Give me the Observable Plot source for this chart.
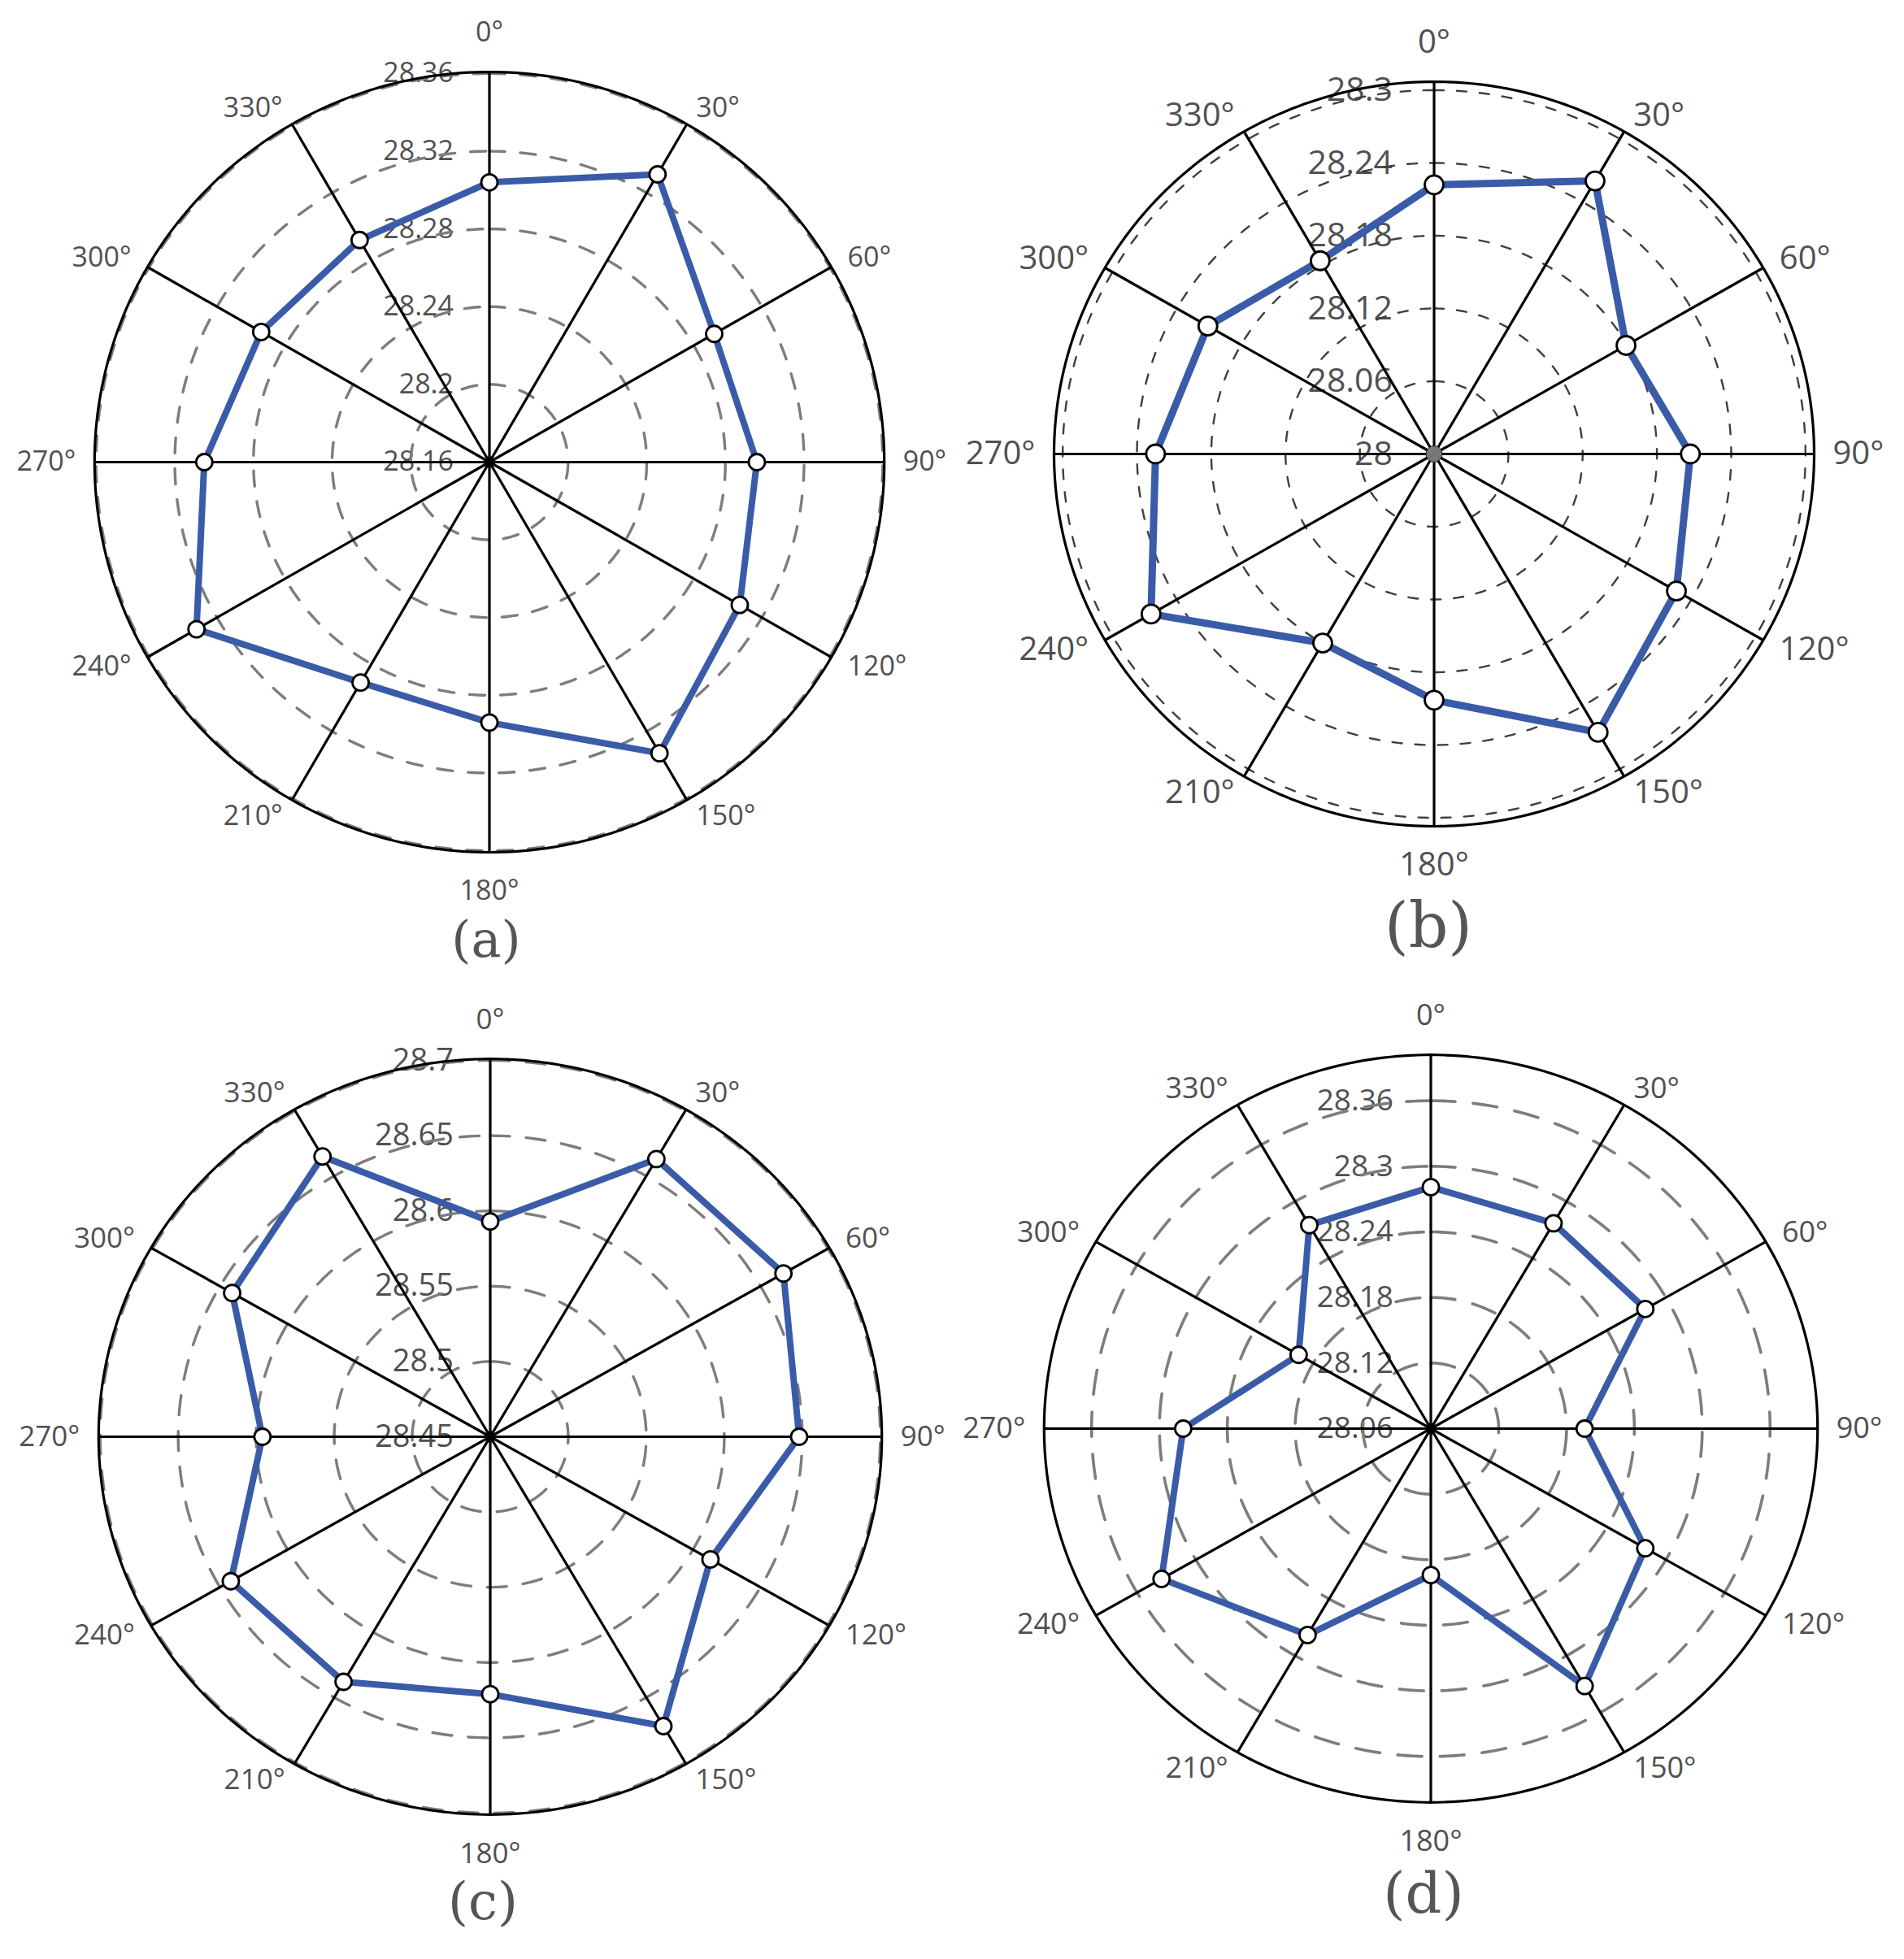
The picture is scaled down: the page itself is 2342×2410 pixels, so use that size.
<!DOCTYPE html>
<html><head><meta charset="utf-8">
<script src="https://cdn.jsdelivr.net/npm/d3@7"></script>
<script src="https://cdn.jsdelivr.net/npm/@observablehq/plot@0.6"></script>
<style>
html,body{margin:0;padding:0;background:#fff;}
#page{position:relative;width:2342px;height:2410px;overflow:hidden;background:#fff;}
.panel{position:absolute;}
.panel svg{max-width:none !important;}
.cap{position:absolute;transform:translate(-50%,-50%);font-family:"DejaVu Serif","Liberation Serif",serif;color:#555;line-height:0.7;white-space:nowrap;}
</style></head><body><div id="page"></div>
<script>
// ---- data ----
const angles = [0, 30, 60, 90, 120, 150, 180, 210, 240, 270, 300, 330];
const angleLabels = ["0°", "30°", "60°", "90°", "120°", "150°", "180°", "210°", "240°", "270°", "300°", "330°"];

const valuesA = [28.304, 28.331, 28.292, 28.296, 28.307, 28.333, 28.294, 28.291, 28.332, 28.305, 28.294, 28.292];
const ticksA = [28.16, 28.2, 28.24, 28.28, 28.32, 28.36];
const tickLabelsA = ["28.16", "28.2", "28.24", "28.28", "28.32", "28.36"];

const valuesB = [28.222, 28.260, 28.179, 28.207, 28.226, 28.265, 28.203, 28.180, 28.264, 28.225, 28.211, 28.184];
const ticksB = [28.0, 28.06, 28.12, 28.18, 28.24, 28.3];
const tickLabelsB = ["28", "28.06", "28.12", "28.18", "28.24", "28.3"];

const valuesC = [28.593, 28.663, 28.667, 28.648, 28.613, 28.672, 28.621, 28.638, 28.642, 28.596, 28.641, 28.665];
const ticksC = [28.45, 28.5, 28.55, 28.6, 28.65, 28.7];
const tickLabelsC = ["28.45", "28.5", "28.55", "28.6", "28.65", "28.7"];

const valuesD = [28.281, 28.277, 28.279, 28.196, 28.279, 28.332, 28.194, 28.278, 28.335, 28.279, 28.195, 28.275];
const ticksD = [28.06, 28.12, 28.18, 28.24, 28.3, 28.36];
const tickLabelsD = ["28.06", "28.12", "28.18", "28.24", "28.3", "28.36"];

const captions = ["(a)", "(b)", "(c)", "(d)"];

// ---- layout / style ----
const panels = [
  {values: valuesA, ticks: ticksA, tickLabels: tickLabelsA, rMax: 28.3608, cx: 601.7, cy: 568.3, rx: 485.7, ry: 480,
   angleFont: 34, tickFont: 34, tickDx: 44, dash: "19,19", dashColor: "#7d7d7d", dashWidth: 3.4, lineWidth: 8, dotR: 10,
   center: {fill: "#000", r: 7}, cap: {x: 598, y: 1156, size: 62}},
  {values: valuesB, ticks: ticksB, tickLabels: tickLabelsB, rMax: 28.307, cx: 1763, cy: 558.3, rx: 467.5, ry: 458,
   angleFont: 40, tickFont: 41, tickDx: 51, dash: "12,16", dashColor: "#3f3f3f", dashWidth: 2.4, lineWidth: 9, dotR: 11.5,
   center: {fill: "#777", r: 10}, cap: {x: 1757, y: 1139, size: 76}},
  {values: valuesC, ticks: ticksC, tickLabels: tickLabelsC, rMax: 28.701, cx: 602, cy: 1766.7, rx: 481.7, ry: 464.8,
   angleFont: 35, tickFont: 38, tickDx: 45, dash: "24,20", dashColor: "#7d7d7d", dashWidth: 3.4, lineWidth: 8, dotR: 10,
   center: {fill: "#000", r: 7}, cap: {x: 594, y: 2339, size: 64}},
  {values: valuesD, ticks: ticksD, tickLabels: tickLabelsD, rMax: 28.402, cx: 1759.6, cy: 1756.7, rx: 475.7, ry: 459.8,
   angleFont: 36, tickFont: 37, tickDx: 46, dash: "30,22", dashColor: "#7d7d7d", dashWidth: 3.6, lineWidth: 8, dotR: 10,
   center: {fill: "#000", r: 7}, cap: {x: 1751, y: 2329, size: 70}}
];

const page = document.getElementById("page");
const rad = a => a * Math.PI / 180;
const circleAngles = d3.range(0, 361, 1);
const FONT = "'Open Sans', 'Noto Sans', sans-serif";
const textColor = "#505050";

function makePanel(p, k) {
  const pad = 150;
  const W = Math.round(2 * p.rx + 2 * pad), H = Math.round(2 * p.ry + 2 * pad);
  const xe = W / 2 / p.rx, ye = H / 2 / p.ry;
  const rMin = p.ticks[0];
  const norm = v => (v - rMin) / (p.rMax - rMin);

  const ringData = p.ticks.slice(1).flatMap(t => circleAngles.map(a => ({t, a})));
  const outer = circleAngles.map(a => ({a}));
  const pts = angles.map((a, i) => ({a, v: p.values[i]}));
  const lbl = angles.map((a, i) => ({a, s: angleLabels[i]}));
  const tl = p.ticks.map((t, i) => ({t, s: p.tickLabels[i]}));
  const offSide = 23, offTop = 48;

  const px = d => norm(d.v) * Math.sin(rad(d.a));
  const py = d => norm(d.v) * Math.cos(rad(d.a));

  const sideText = (filter, anchor) => Plot.text(lbl, {
    filter, x: d => Math.sin(rad(d.a)) * (1 + offSide / p.rx), y: d => Math.cos(rad(d.a)) * (1 + offSide / p.ry),
    text: "s", textAnchor: anchor, fontSize: p.angleFont, fontFamily: FONT, fill: textColor
  });

  const chart = Plot.plot({
    width: W, height: H, margin: 0,
    x: {domain: [-xe, xe], axis: null},
    y: {domain: [-ye, ye], axis: null},
    style: {background: "transparent", overflow: "visible", fontFamily: FONT, maxWidth: "none"},
    marks: [
      Plot.text(tl, {x: () => 0, y: d => norm(d.t), text: "s", textAnchor: "end", dx: -p.tickDx,
        fontSize: p.tickFont, fontFamily: FONT, fill: textColor}),
      Plot.line(ringData, {x: d => norm(d.t) * Math.sin(rad(d.a)), y: d => norm(d.t) * Math.cos(rad(d.a)), z: "t",
        stroke: p.dashColor, strokeWidth: p.dashWidth, strokeDasharray: p.dash}),
      Plot.link(angles, {x1: () => 0, y1: () => 0, x2: a => Math.sin(rad(a)), y2: a => Math.cos(rad(a)),
        stroke: "#000", strokeWidth: 3.2}),
      Plot.line(outer, {x: d => Math.sin(rad(d.a)), y: d => Math.cos(rad(d.a)), stroke: "#000", strokeWidth: 3.2}),
      Plot.dot([0], {x: () => 0, y: () => 0, r: p.center.r, fill: p.center.fill, stroke: "#222", strokeWidth: 1}),
      Plot.line(pts, {x: px, y: py, curve: "linear-closed", stroke: "#3a5ba8", strokeWidth: p.lineWidth, strokeLinejoin: "round"}),
      Plot.dot(pts, {x: px, y: py, r: p.dotR, fill: "#fff", stroke: "#000", strokeWidth: 2.8}),
      sideText(d => d.a > 0 && d.a < 180, "start"),
      sideText(d => d.a > 180, "end"),
      Plot.text(lbl, {filter: d => d.a === 0 || d.a === 180,
        x: d => 0, y: d => Math.cos(rad(d.a)) * (1 + offTop / p.ry),
        text: "s", textAnchor: "middle", fontSize: p.angleFont, fontFamily: FONT, fill: textColor})
    ]
  });
  const wrap = document.createElement("div");
  wrap.className = "panel";
  wrap.style.left = (p.cx - W / 2) + "px";
  wrap.style.top = (p.cy - H / 2) + "px";
  wrap.style.width = W + "px";
  wrap.style.height = H + "px";
  chart.style.width = W + "px";
  chart.style.height = H + "px";
  chart.style.maxWidth = "none";
  wrap.appendChild(chart);
  page.appendChild(wrap);

  const cap = document.createElement("div");
  cap.className = "cap";
  cap.textContent = captions[k];
  cap.style.left = p.cap.x + "px";
  cap.style.top = p.cap.y + "px";
  cap.style.fontSize = p.cap.size + "px";
  page.appendChild(cap);
}

panels.forEach(makePanel);
</script>
</body></html>
